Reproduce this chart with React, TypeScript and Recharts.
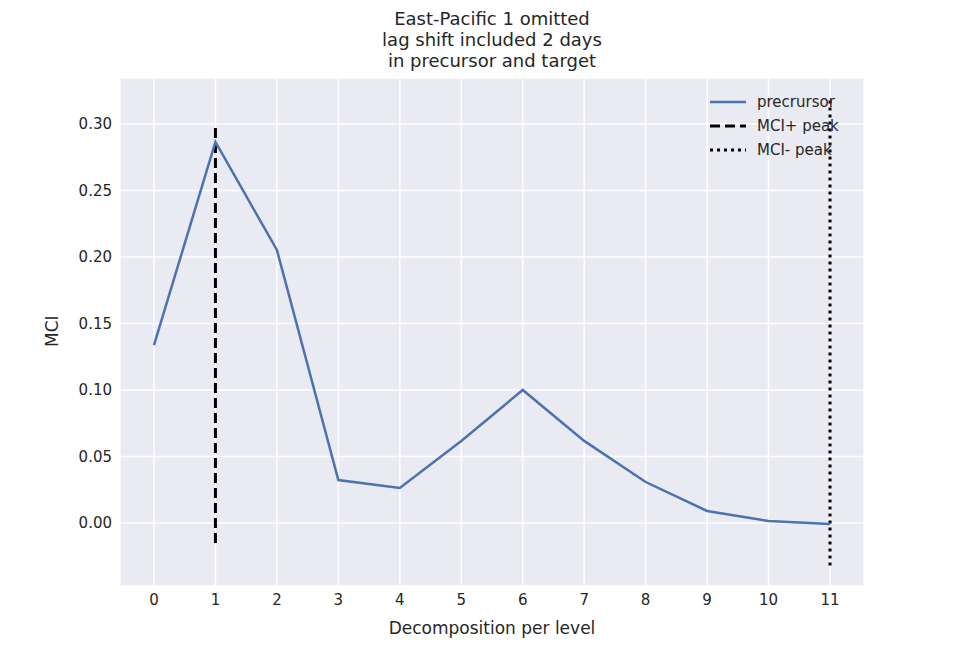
import { ComposedChart, Line, XAxis, YAxis, CartesianGrid, ReferenceLine } from 'recharts';

const levels = [0, 1, 2, 3, 4, 5, 6, 7, 8, 9, 10, 11];
const mci = [0.1338, 0.2865, 0.2053, 0.0323, 0.0263, 0.0617, 0.1, 0.0617, 0.0308, 0.009, 0.0015, -0.0008];
const yTicks = [0, 0.05, 0.1, 0.15, 0.2, 0.25, 0.3];
const peakPos = { x: 1, y0: -0.015, y1: 0.3 };
const peakNeg = { x: 11, y0: -0.032, y1: 0.318 };

const data = levels.map((l, i) => ({ level: l, mci: mci[i] }));
const font = 'DejaVu Sans, sans-serif';
const txt = '#262626';

export default function App() {
  return (
    <div style={{ position: 'absolute', left: 0, top: 0, width: 960, height: 660, background: '#fff', fontFamily: font }}>
      <div style={{ position: 'absolute', top: 8, width: 960, left: 12, textAlign: 'center', fontSize: 18, lineHeight: '21px', color: txt }}>
        East-Pacific 1 omitted<br />lag shift included 2 days<br />in precursor and target
      </div>
      <ComposedChart width={960} height={660} data={data} margin={{ top: 78, right: 96, left: 60, bottom: 44 }}>
        <CartesianGrid fill="#EAEAF2" stroke="#fff" strokeWidth={1.5} ticks={undefined} />
        <XAxis dataKey="level" type="number" domain={[-0.553, 11.553]} ticks={levels} interval={0}
          axisLine={false} tickLine={false} height={30} tick={{ fill: txt, fontSize: 15, fontFamily: font }}
          label={{ value: 'Decomposition per level', position: 'insideBottom', offset: -18, fill: txt, fontSize: 17, fontFamily: font }} />
        <YAxis type="number" domain={[-0.0474, 0.3346]} ticks={yTicks} interval={0} width={60}
          axisLine={false} tickLine={false} tickFormatter={(v: number) => v.toFixed(2)}
          tick={{ fill: txt, fontSize: 15, fontFamily: font }}
          label={{ value: 'MCI', angle: -90, position: 'insideLeft', offset: -8, dy: 15, fill: txt, fontSize: 17, fontFamily: font }} />
        <ReferenceLine segment={[{ x: peakPos.x, y: peakPos.y0 }, { x: peakPos.x, y: peakPos.y1 }]} stroke="#000" strokeWidth={3} strokeDasharray="10 5" />
        <ReferenceLine segment={[{ x: peakNeg.x, y: peakNeg.y0 }, { x: peakNeg.x, y: peakNeg.y1 }]} stroke="#000" strokeWidth={3} strokeDasharray="3 4" />
        <Line dataKey="mci" stroke="#4C72B0" strokeWidth={2.5} dot={false} isAnimationActive={false} />
      </ComposedChart>
      <div style={{ position: 'absolute', left: 710, top: 90, fontSize: 15, color: txt, lineHeight: '24px' }}>
        {[
          { label: 'precrursor', color: '#4C72B0', dash: undefined, w: 2.5 },
          { label: 'MCI+ peak', color: '#000', dash: '10 5', w: 3 },
          { label: 'MCI- peak', color: '#000', dash: '3 4', w: 3 },
        ].map((e) => (
          <div key={e.label} style={{ display: 'flex', alignItems: 'center' }}>
            <svg width={36} height={10} style={{ marginRight: 11 }}>
              <line x1={0} y1={5} x2={36} y2={5} stroke={e.color} strokeWidth={e.w} strokeDasharray={e.dash} />
            </svg>
            {e.label}
          </div>
        ))}
      </div>
    </div>
  );
}
